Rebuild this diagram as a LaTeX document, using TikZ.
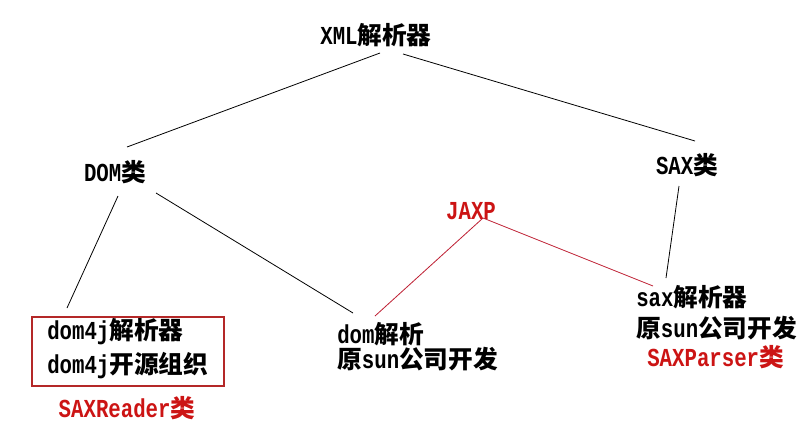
\documentclass[tikz,border=0pt]{standalone}
\usepackage{fontspec}
\setmainfont{Liberation Mono}[Scale=1.05, FakeStretch=0.8]
\newfontfamily\cjk{Noto Sans CJK SC}
\newcommand{\zh}[1]{{\cjk #1}}
\definecolor{txtred}{RGB}{204,20,20}
\definecolor{boxred}{RGB}{180,40,40}
\definecolor{linered}{RGB}{190,30,50}
\tikzset{
  lbl/.style={inner sep=0pt, font=\bfseries\fontsize{18.5}{22}\selectfont},
  redlbl/.style={lbl, text=txtred},
  blk/.style={draw=black, line width=0.6pt},
  rln/.style={draw=linered, line width=0.6pt},
}
\begin{document}
\begin{tikzpicture}[x=0.75pt, y=-0.75pt]
\useasboundingbox[fill=white] (0,0) rectangle (805,436);
% labels
\node[lbl] (xml) at (376,35) {XML\zh{解析器}};
\node[lbl] (dom) at (115,172) {DOM\zh{类}};
\node[lbl] (sax) at (687,165) {SAX\zh{类}};
\node[redlbl] (jaxp) at (471,211) {JAXP};
\node[lbl, anchor=west] (d4a) at (47,332) {dom4j\zh{解析器}};
\node[lbl, anchor=west] (d4b) at (47,366) {dom4j\zh{开源组织}};
\node[redlbl] (saxr) at (127,408) {SAXReader\zh{类}};
\node[lbl, anchor=west] (doma) at (337,334) {dom\zh{解析}};
\node[lbl, anchor=west] (domb) at (337,359) {\zh{原}sun\zh{公司开发}};
\node[lbl, anchor=west] (saxa) at (636,297) {sax\zh{解析器}};
\node[lbl, anchor=west] (saxb) at (636,328) {\zh{原}sun\zh{公司开发}};
\node[redlbl, anchor=west] (saxp) at (647,357) {SAXParser\zh{类}};
% box
\draw[draw=boxred, line width=0.8pt] (32,317) rectangle (224,386);
% connector end points
\coordinate (xl) at (380,53);
\coordinate (xr) at (403,54);
\coordinate (dt) at (127,147);
\coordinate (st) at (695,141);
\coordinate (dl) at (118,196);
\coordinate (bt) at (67,308);
\coordinate (dr) at (156,193);
\coordinate (dmt) at (353,313);
\coordinate (ja) at (483,218);
\coordinate (jl) at (375,316);
\coordinate (jr) at (653,286);
\coordinate (sb) at (679,186);
\coordinate (sxt) at (666,278);
% connectors
\draw[blk] (xl) -- (dt);
\draw[blk] (xr) -- (st);
\draw[blk] (dl) -- (bt);
\draw[blk] (dr) -- (dmt);
\draw[blk] (sb) -- (sxt);
\draw[rln] (jl) -- (ja) -- (jr);
\end{tikzpicture}
\end{document}
